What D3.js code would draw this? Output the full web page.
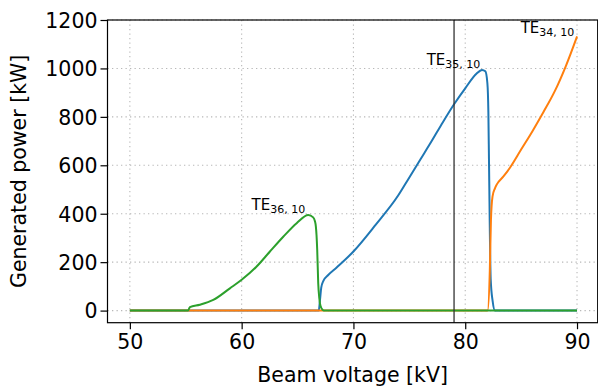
<!DOCTYPE html>
<html>
<head>
<meta charset="utf-8">
<script src="https://cdn.jsdelivr.net/npm/d3@7"></script>
<style>
  body { margin: 0; background: #fff; }
  text { font-family: "DejaVu Sans", sans-serif; fill: #000; }
</style>
</head>
<body>
<div id="chart"></div>
<script>
// Data (beam voltage in kV, power in kW)
var blueV = [50, 66.9, 67.0, 67.12, 67.3, 67.7, 68.5, 70.0, 72.0, 74.0, 75.0, 76.0, 77.0, 78.0, 79.0, 80.0, 81.0, 81.5, 81.8, 81.98, 82.07, 82.13, 82.28, 82.45, 82.66, 90];
var blueP = [0, 0, 40, 95, 122, 145, 178, 244, 355, 475, 550, 625, 700, 778, 852, 918, 978, 994, 988, 940, 820, 600, 127, 40, 0, 0];

var orangeV = [50, 82.0, 82.2, 82.3, 82.44, 82.66, 82.8, 83.4, 84.0, 85.0, 86.0, 87.0, 88.0, 89.0, 90];
var orangeP = [0, 0, 168, 374, 471, 505, 519, 553, 590, 665, 740, 820, 905, 1010, 1132];

var greenV = [50, 55.2, 55.37, 56.26, 57.46, 58.95, 60.0, 61.34, 62.53, 63.72, 64.92, 65.96, 66.4, 66.55, 66.64, 66.7, 66.76, 66.85, 66.95, 67.05, 67.25, 67.35, 90];
var greenP = [0, 0, 14, 24, 44, 92, 127, 182, 244, 305, 361, 395, 385, 370, 347, 310, 250, 113, 50, 20, 3, 0, 0];

var xTicks = [50, 60, 70, 80, 90];
var yTicks = [0, 200, 400, 600, 800, 1000, 1200];
var markerV = 79;

// annotation labels: mode name, subscript, anchor point
var labelMain = ["TE", "TE", "TE"];
var labelSub = ["36, 10", "35, 10", "34, 10"];
var labelV = [60.89, 76.55, 84.96];
var labelP = [416, 1016, 1145];

var svgWidth = 598;
var svgHeight = 387;
var margin = { top: 20, right: 0.3, bottom: 64.3, left: 107.5 };
var width = svgWidth - margin.left - margin.right;
var height = svgHeight - margin.top - margin.bottom;

var svg = d3.select("#chart")
  .append("svg")
  .attr("width", svgWidth)
  .attr("height", svgHeight);

var chartGroup = svg.append("g")
  .attr("transform", `translate(${margin.left}, ${margin.top})`);

var x = d3.scaleLinear().domain([48, 91.85]).range([0, width]);
var y = d3.scaleLinear().domain([-50, 1200]).range([height, 0]);

// grid
chartGroup.append("g")
  .selectAll("line")
  .data(xTicks)
  .enter()
  .append("line")
  .attr("x1", d => x(d)).attr("x2", d => x(d))
  .attr("y1", 0).attr("y2", height)
  .attr("stroke", "#b8b8b8")
  .attr("stroke-width", 1.1)
  .attr("stroke-dasharray", "1.3,3.2");

chartGroup.append("g")
  .selectAll("line")
  .data(yTicks)
  .enter()
  .append("line")
  .attr("x1", 0).attr("x2", width)
  .attr("y1", d => y(d)).attr("y2", d => y(d))
  .attr("stroke", "#b8b8b8")
  .attr("stroke-width", 1.1)
  .attr("stroke-dasharray", "1.3,3.2");

// curves
var line = d3.line()
  .x(d => x(d[0]))
  .y(d => y(d[1]))
  .curve(d3.curveMonotoneX);

var series = [
  { v: blueV, p: blueP, color: "#1f77b4" },
  { v: orangeV, p: orangeP, color: "#ff7f0e" },
  { v: greenV, p: greenP, color: "#2ca02c" }
];

series.forEach(s => {
  chartGroup.append("path")
    .datum(s.v.map((v, i) => [v, s.p[i]]))
    .attr("d", line)
    .attr("fill", "none")
    .attr("stroke", s.color)
    .attr("stroke-width", 2)
    .attr("stroke-linejoin", "round");
});

// vertical marker
chartGroup.append("line")
  .attr("x1", x(markerV)).attr("x2", x(markerV))
  .attr("y1", 0).attr("y2", height)
  .attr("stroke", "#333")
  .attr("stroke-width", 1.3);

// annotations
labelMain.forEach((m, i) => {
  var t = chartGroup.append("text")
    .attr("x", x(labelV[i]))
    .attr("y", y(labelP[i]))
    .style("font-size", "15px");
  t.append("tspan").text(m);
  t.append("tspan")
    .attr("dy", 3)
    .style("font-size", "11px")
    .text(labelSub[i]);
});

// axes
var bottomAxis = d3.axisBottom(x).tickValues(xTicks).tickSize(6.5).tickPadding(5).tickFormat(d3.format("d"));
var leftAxis = d3.axisLeft(y).tickValues(yTicks).tickSize(7).tickPadding(3).tickFormat(d3.format("d"));

var xAxis = chartGroup.append("g")
  .attr("transform", `translate(0, ${height})`)
  .call(bottomAxis);

var yAxis = chartGroup.append("g")
  .call(leftAxis);

[xAxis, yAxis].forEach(a => {
  a.select(".domain").remove();
  a.selectAll(".tick line").attr("stroke", "#000").attr("stroke-width", 1.2);
  a.selectAll(".tick text").style("font-size", "20.5px").attr("fill", "#000");
});
xAxis.selectAll(".tick text").attr("dy", "0.71em");
yAxis.selectAll(".tick text").attr("dy", "0.36em");

// frame
chartGroup.append("rect")
  .attr("x", 0).attr("y", 0)
  .attr("width", width).attr("height", height)
  .attr("fill", "none")
  .attr("stroke", "#000")
  .attr("stroke-width", 1.2);

// axis labels
chartGroup.append("text")
  .attr("x", width / 2)
  .attr("y", height + 59.5)
  .attr("text-anchor", "middle")
  .style("font-size", "20.5px")
  .text("Beam voltage [kV]");

chartGroup.append("text")
  .attr("transform", "rotate(-90)")
  .attr("x", -(height / 2))
  .attr("y", -82)
  .attr("text-anchor", "middle")
  .style("font-size", "20.5px")
  .text("Generated power [kW]");
</script>
</body>
</html>
